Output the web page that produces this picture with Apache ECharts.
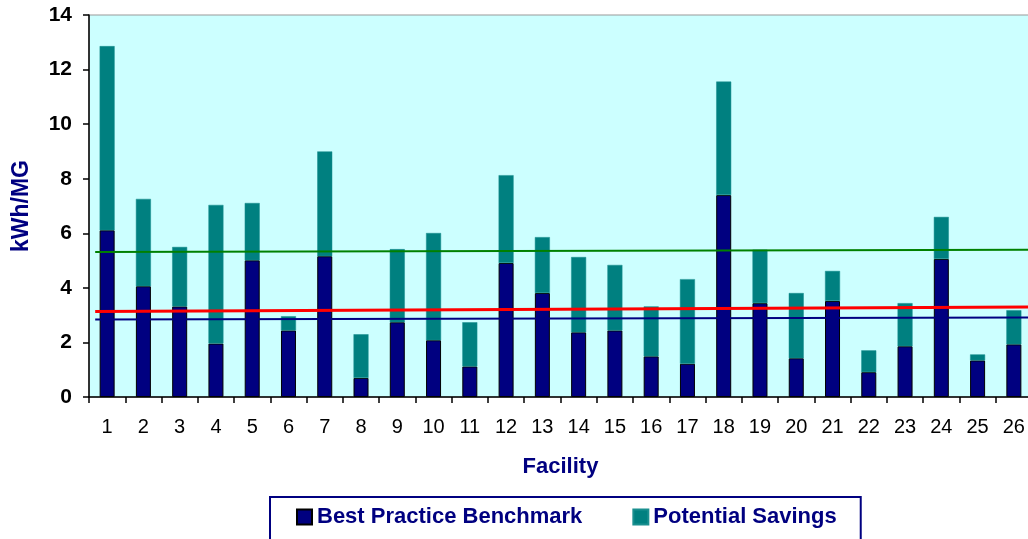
<!DOCTYPE html>
<html>
<head>
<meta charset="utf-8">
<script src="https://cdn.jsdelivr.net/npm/echarts@6/dist/echarts.min.js"></script>
<style>
html,body{margin:0;padding:0;background:#fff;overflow:hidden;}
#chart{width:1028px;height:539px;}
</style>
</head>
<body>
<div id="chart"></div>
<script>
var facilities = ['1','2','3','4','5','6','7','8','9','10','11','12','13','14','15','16','17','18','19','20','21','22','23','24','25','26'];
var benchmark = [6.11,4.06,3.32,1.96,5.01,2.44,5.16,0.70,2.74,2.08,1.12,4.91,3.81,2.37,2.44,1.49,1.22,7.40,3.44,1.42,3.52,0.91,1.86,5.06,1.34,1.93];
var savings   = [6.75,3.20,2.18,5.08,2.10,0.52,3.84,1.60,2.68,3.93,1.62,3.22,2.05,2.76,2.40,1.83,3.10,4.16,1.96,2.39,1.10,0.80,1.58,1.54,0.22,1.25];
var greenLine = [[0.17,5.31],[26,5.40]];
var redLine   = [[0.17,3.13],[26,3.30]];
var blueLine  = [[0.17,2.84],[26,2.91]];
var yTicks = {min:0, max:14, interval:2};

var chart = echarts.init(document.getElementById('chart'));
var font = 'Liberation Sans, Arial, sans-serif';
chart.setOption({
  animation:false,
  textStyle:{fontFamily:font},
  grid:{left:89, top:15, width:943, bottom:142, containLabel:false, outerBoundsMode:'none',
        show:true, backgroundColor:'#ccffff', borderColor:'#999999', borderWidth:1},
  legend:{
    data:['Best Practice Benchmark','Potential Savings'],
    left:270, top:497,
    borderColor:'#000080', borderWidth:2, borderRadius:0,
    padding:[9,24,14,26],
    itemWidth:15, itemHeight:15, itemGap:50,
    icon:'rect',
    textStyle:{fontFamily:font, fontSize:22, fontWeight:'bold', color:'#000080'}
  },
  xAxis:[{
    type:'category', data:facilities,
    name:'Facility', nameLocation:'middle', nameGap:59,
    nameTextStyle:{fontFamily:font, fontSize:22, fontWeight:'bold', color:'#000080'},
    axisLine:{lineStyle:{color:'#000', width:1.5}},
    axisTick:{show:true, interval:0, length:6, lineStyle:{color:'#000', width:1.5}},
    axisLabel:{interval:0, margin:20, fontSize:20, color:'#000', fontFamily:font}
  },{
    type:'value', min:0, max:26, show:false
  }],
  yAxis:{
    type:'value', min:yTicks.min, max:yTicks.max, interval:yTicks.interval,
    name:'kWh/MG', nameLocation:'middle', nameGap:56, nameRotate:90,
    nameTextStyle:{fontFamily:font, fontSize:23, fontWeight:'bold', color:'#000080'},
    splitLine:{show:false},
    axisLine:{show:true, lineStyle:{color:'#000', width:1.5}},
    axisTick:{show:true, length:6, lineStyle:{color:'#000', width:1.5}},
    axisLabel:{fontSize:21, fontWeight:'bold', color:'#000', margin:17, fontFamily:font}
  },
  series:[
    {name:'Best Practice Benchmark', type:'bar', stack:'t', data:benchmark, barWidth:15,
     itemStyle:{color:'#000080', borderColor:'#000', borderWidth:1}},
    {name:'Potential Savings', type:'bar', stack:'t', data:savings, barWidth:15,
     itemStyle:{color:'#008080', borderColor:'#1a8f8f', borderWidth:0.5}},
    {type:'line', xAxisIndex:1, data:greenLine, symbol:'none', lineStyle:{color:'#008000', width:2}, z:5},
    {type:'line', xAxisIndex:1, data:redLine, symbol:'none', lineStyle:{color:'#ff0000', width:3}, z:5},
    {type:'line', xAxisIndex:1, data:blueLine, symbol:'none', lineStyle:{color:'#000080', width:2}, z:5}
  ]
});
</script>
</body>
</html>
